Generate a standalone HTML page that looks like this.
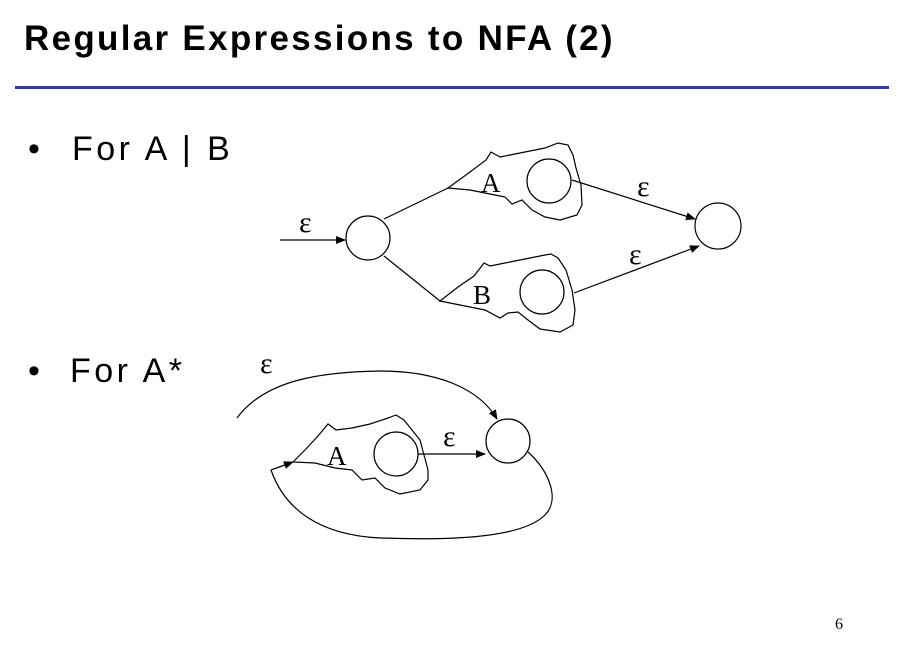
<!DOCTYPE html>
<html><head><meta charset="utf-8"><style>
body{margin:0;background:#fff;}
#s{position:relative;width:905px;height:665px;overflow:hidden;font-family:"Liberation Sans",sans-serif;}
.t{position:absolute;white-space:nowrap;color:#000;}
</style></head><body>
<div id="s">
<div class="t" style="left:24px;top:19px;font-size:35px;font-weight:bold;letter-spacing:2.3px;">Regular Expressions to NFA (2)</div>
<div style="position:absolute;left:15px;top:86px;width:874px;height:3px;background:#3333cc;"></div>
<div class="t" style="left:28px;top:130px;font-size:34px;">•</div>
<div class="t" style="left:72px;top:130px;font-size:34px;letter-spacing:3.5px;">For A | B</div>
<div class="t" style="left:28px;top:352px;font-size:34px;">•</div>
<div class="t" style="left:70px;top:352px;font-size:34px;letter-spacing:3.5px;">For A*</div>
<div class="t" style="left:835px;top:616px;font-size:16px;font-family:'Liberation Serif',serif;">6</div>
<svg width="905" height="665" style="position:absolute;left:0;top:0" font-family="Liberation Serif, serif">
<defs><marker id="ah" markerWidth="10" markerHeight="8" refX="9" refY="4" orient="auto" markerUnits="userSpaceOnUse"><path d="M0,0 L10,4 L0,8z" fill="#000"/></marker></defs>
<g fill="none" stroke="#000" stroke-width="1.2">
<line x1="280" y1="240" x2="345" y2="240" marker-end="url(#ah)"/>
<circle cx="368" cy="238" r="22"/>
<circle cx="718" cy="226" r="23"/>
<line x1="384" y1="219" x2="448" y2="188"/>
<line x1="384" y1="256" x2="440" y2="301"/>
<path d="M448,188 L470,172 L486,160 L491,152 L500,157 L520,153 L545,148 L558,143 L568,145 L573,155 L576,168 L581,185 L582,205 L577,215 L560,220 L545,217 L532,210 L522,200 L512,204 L505,197 L490,194 L470,190 Z"/>
<circle cx="549" cy="181" r="22"/>
<line x1="572" y1="180" x2="695" y2="219" marker-end="url(#ah)"/>
<path d="M440,301 L458,287 L474,276 L484,263 L490,266 L505,263 L525,259 L545,255 L551,254 L558,258 L566,270 L572,290 L575,310 L573,325 L560,332 L540,329 L528,320 L518,312 L508,313 L500,318 L485,310 L465,306 L450,303 Z"/>
<circle cx="542" cy="292" r="22"/>
<line x1="574" y1="293" x2="699" y2="246" marker-end="url(#ah)"/>
<circle cx="508" cy="441" r="22"/>
<circle cx="396" cy="454" r="22"/>
<path d="M237,418 C265,380 320,372 380,371 C440,371 480,390 497,419" marker-end="url(#ah)"/>
<line x1="418" y1="454" x2="485" y2="454" marker-end="url(#ah)"/>
<path d="M293,462 L305,450 L318,436 L328,424 L336,430 L352,428 L370,424 L388,418 L396,415 L404,420 L420,440 L428,470 L428,480 L420,490 L400,494 L385,488 L375,478 L362,480 L352,470 L335,468 L315,463 Z"/>
<line x1="271" y1="470" x2="293" y2="462" marker-end="url(#ah)"/>
<path d="M528,452 C550,472 560,500 545,515 C520,540 440,540 380,538 C320,535 285,510 271,470"/>
</g>
<g font-size="30" fill="#000">
<text x="299" y="232">ε</text>
<text x="637" y="196">ε</text>
<text x="629" y="264">ε</text>
<text x="260" y="373">ε</text>
<text x="443" y="446">ε</text>
</g>
<g font-size="27" fill="#000">
<text x="481" y="192">A</text>
<text x="473" y="304">B</text>
<text x="327" y="465">A</text>
</g>
</svg>
</div>
</body></html>
